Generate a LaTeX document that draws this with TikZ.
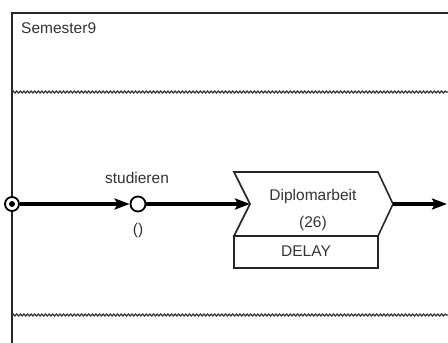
\documentclass[tikz,border=0pt]{standalone}
\usepackage{fontspec}
\setmainfont{Liberation Sans}
\usetikzlibrary{arrows.meta,decorations.pathmorphing}
\begin{document}
\begin{tikzpicture}[x=1pt,y=-1pt,
  txt/.style={font=\fontsize{15.5}{18}\selectfont, text=black!80, inner sep=0pt},
  framel/.style={line width=2.4pt, black!85},
  wave/.style={black!80, line width=1.2pt, decorate,
    decoration={snake, amplitude=1pt, segment length=3.6pt}},
  flow/.style={line width=3.4pt, -{Stealth[length=15pt,width=11pt,inset=3pt]}},
  startc/.style={circle, draw, fill=white, line width=1.8pt, minimum size=14pt, inner sep=0pt},
  statec/.style={circle, draw, fill=white, line width=1.8pt, minimum size=15pt, inner sep=0pt},
  boxl/.style={line width=1.6pt, black!85}]
\useasboundingbox (0,0) rectangle (448,343);

% swimlane frame and its separators
\draw[framel] (12,344) -- (12,13) -- (449,13);
\draw[wave] (12,92) -- (448,92);
\draw[wave] (12,315) -- (448,315);
\node[txt, anchor=base west] (lane) at (21,33) {Semester9};

% start point and state
\node[startc] (start) at (12,204) {};
\fill (start.center) circle (3pt);
\node[statec] (st) at (138,204) {};
\node[txt, anchor=base] (stlab) at (137,183) {studieren};
\node[txt, anchor=base] (starg) at (138,234) {()};

% activity chevron with delay box
\coordinate (nw) at (234,172);
\coordinate (ne) at (378,172);
\coordinate (tip) at (393,204);
\coordinate (se) at (378,236);
\coordinate (sw) at (234,236);
\coordinate (notch) at (250,204);
\draw[boxl] (nw) -- (ne) -- (tip) -- (se) -- (sw) -- (notch) -- cycle;
\draw[boxl] (sw) rectangle (378,268);
\node[txt, anchor=base] (act) at (313,200) {Diplomarbeit};
\node[txt, anchor=base] (num) at (313,227) {(26)};
\node[txt, anchor=base] (delay) at (306,256) {DELAY};
\coordinate (out) at (447,204);

% flow connectors
\draw[flow] (start) -- (st);
\draw[flow] (st) -- (notch);
\draw[flow] (tip) -- (out);
\end{tikzpicture}
\end{document}
